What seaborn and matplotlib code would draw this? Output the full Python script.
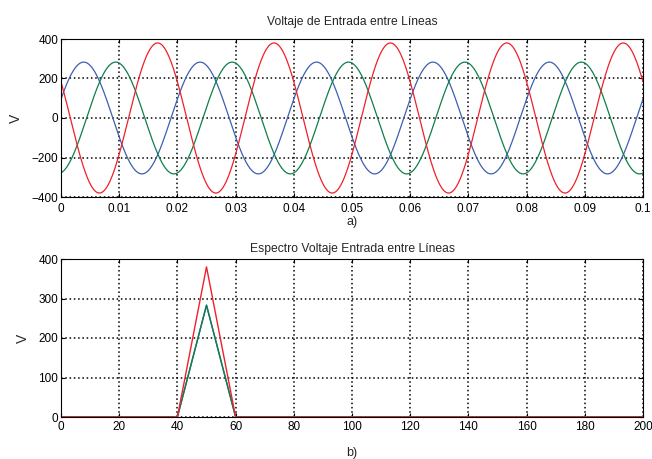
import numpy as np
import pandas as pd
import matplotlib
matplotlib.use("Agg")
import matplotlib.pyplot as plt
import seaborn as sns

# --- data ---
freq_hz = 50.0
amp_blue = 283.0
amp_green = 283.0
amp_red = 380.0
peak_blue = 0.0039   # time of first maximum (s)
peak_green = 0.0094
peak_red = 0.0166
t = np.linspace(0, 0.1, 2001)

spec_freq = [0, 40, 50, 60, 200]
spec_blue = [0, 0, 283, 0, 0]
spec_green = [0, 0, 283, 0, 0]
spec_red = [0, 0, 380, 0, 0]

top_xticks = [0, 0.01, 0.02, 0.03, 0.04, 0.05, 0.06, 0.07, 0.08, 0.09, 0.1]
top_xlabels = ["0", "0.01", "0.02", "0.03", "0.04", "0.05", "0.06", "0.07", "0.08", "0.09", "0.1"]
top_yticks = [-400, -200, 0, 200, 400]
bot_xticks = [0, 20, 40, 60, 80, 100, 120, 140, 160, 180, 200]
bot_yticks = [0, 100, 200, 300, 400]

C_BLUE = "#3d5fb0"
C_GREEN = "#0f7f4a"
C_RED = "#f0202a"


def wave(a, tp):
    return a * np.cos(2 * np.pi * freq_hz * (t - tp))


df_top = pd.DataFrame({
    "t": np.concatenate([t, t, t]),
    "v": np.concatenate([wave(amp_blue, peak_blue), wave(amp_green, peak_green), wave(amp_red, peak_red)]),
    "s": ["b"] * len(t) + ["g"] * len(t) + ["r"] * len(t),
})
df_bot = pd.DataFrame({
    "f": spec_freq * 3,
    "v": spec_blue + spec_green + spec_red,
    "s": ["b"] * 5 + ["g"] * 5 + ["r"] * 5,
})

sns.set_theme(style="white")
plt.rcParams["font.family"] = ["Liberation Sans", "DejaVu Sans"]

fig = plt.figure(figsize=(6.52, 4.59), dpi=100)
W, H = 652, 459
ax1 = fig.add_axes([61 / W, 1 - 197 / H, 582 / W, 158 / H])
ax2 = fig.add_axes([61 / W, 1 - 417 / H, 582 / W, 158 / H])

pal = {"b": C_BLUE, "g": C_GREEN, "r": C_RED}
sns.lineplot(data=df_top, x="t", y="v", hue="s", palette=pal, ax=ax1,
             legend=False, linewidth=0.9, estimator=None, sort=False)
sns.lineplot(data=df_bot, x="f", y="v", hue="s", palette=pal, ax=ax2,
             legend=False, linewidth=1.0, estimator=None, sort=False)

for ax in (ax1, ax2):
    ax.grid(True, color="black", linestyle=(0, (1, 1.8)), linewidth=1.1)
    ax.set_axisbelow(True)
    for sp in ax.spines.values():
        sp.set_color("black")
        sp.set_linewidth(0.8)
        sp.set_visible(True)
    ax.tick_params(direction="in", length=3, width=0.8, colors="black",
                   labelsize=8.5, pad=2, top=True, right=True,
                   left=True, bottom=True)
    ax.set_ylabel("V", fontsize=10, labelpad=6)

ax1.tick_params(axis="x", pad=4)
ax2.tick_params(axis="x", pad=3)

ax1.set_xlim(0, 0.1)
ax1.set_ylim(-400, 400)
ax1.set_xticks(top_xticks)
ax1.set_xticklabels(top_xlabels)
ax1.set_yticks(top_yticks)
ax1.set_title("Voltaje de Entrada entre Líneas", fontsize=8.7, pad=10)
ax1.set_xlabel("a)", fontsize=9, labelpad=1)

ax2.set_xlim(0, 200)
ax2.set_ylim(0, 400)
ax2.set_xticks(bot_xticks)
ax2.set_yticks(bot_yticks)
ax2.set_title("Espectro Voltaje Entrada entre Líneas", fontsize=8.7, pad=5)
ax2.set_xlabel("b)", fontsize=9, labelpad=10)

fig.savefig("out.png", dpi=100, facecolor="white")
